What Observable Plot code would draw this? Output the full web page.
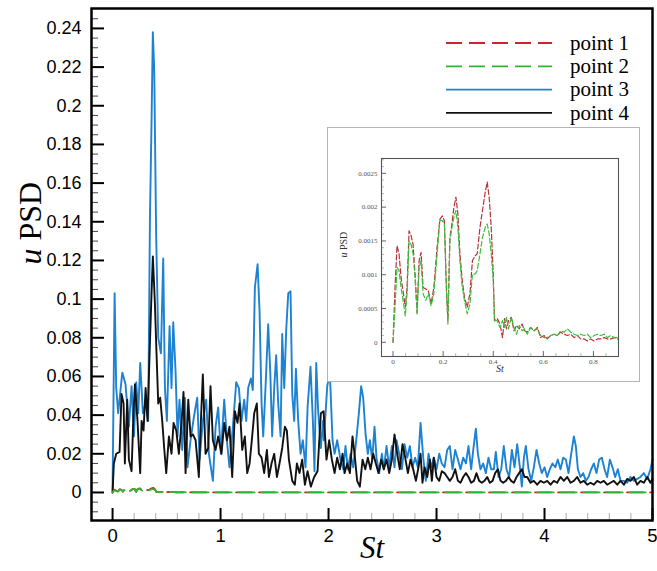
<!DOCTYPE html>
<html><head><meta charset="utf-8">
<script src="https://cdn.jsdelivr.net/npm/d3@7"></script>
<script src="https://cdn.jsdelivr.net/npm/@observablehq/plot@0.6"></script>
<style>
body{margin:0;background:#fff;}
#wrap{position:relative;width:657px;height:571px;overflow:hidden;background:#fff;}
#main{position:absolute;left:0;top:0;}
#inset{position:absolute;left:327px;top:127px;width:313px;height:255px;background:#fff;outline:1.5px solid #b4b4b4;outline-offset:-1.5px;}
#legend{position:absolute;left:0;top:0;pointer-events:none;}
</style></head>
<body><div id="wrap"><div id="main"></div><div id="inset"></div><svg id="legend" width="657" height="140"></svg></div>
<script>
// ---------- data ----------
const seriesNames = ["point 1", "point 2", "point 3", "point 4"];
const seriesColors = ["#c8262e", "#2fb52f", "#1e82d2", "#111111"];

// point 3 (blue)
const p3St = [0.000,0.019,0.034,0.052,0.090,0.120,0.151,0.176,0.198,0.219,0.238,0.256,0.281,0.306,0.330,0.346,0.361,0.373,0.386,0.404,0.423,0.448,0.469,0.485,0.503,0.528,0.546,0.562,0.583,0.602,0.620,0.645,0.670,0.694,0.722,0.753,0.784,0.806,0.836,0.867,0.892,0.929,0.954,0.978,1.003,1.034,1.062,1.083,1.114,1.145,1.170,1.194,1.219,1.238,1.256,1.281,1.299,1.318,1.343,1.361,1.380,1.395,1.417,1.441,1.460,1.478,1.497,1.515,1.534,1.556,1.571,1.590,1.608,1.627,1.648,1.664,1.682,1.698,1.719,1.741,1.762,1.787,1.806,1.833,1.855,1.870,1.886,1.904,1.929,1.948,1.957,1.988,2.012,2.037,2.056,2.080,2.111,2.136,2.157,2.179,2.204,2.228,2.253,2.281,2.302,2.321,2.343,2.364,2.383,2.404,2.426,2.444,2.469,2.494,2.512,2.537,2.562,2.586,2.611,2.630,2.654,2.679,2.704,2.728,2.753,2.778,2.802,2.827,2.852,2.877,2.901,2.926,2.951,2.975,3.000,3.025,3.049,3.074,3.099,3.123,3.148,3.173,3.198,3.222,3.247,3.272,3.296,3.321,3.340,3.364,3.383,3.407,3.432,3.457,3.481,3.506,3.531,3.549,3.574,3.599,3.623,3.648,3.673,3.698,3.722,3.747,3.772,3.790,3.809,3.827,3.852,3.877,3.901,3.926,3.951,3.975,4.000,4.025,4.049,4.074,4.099,4.123,4.148,4.173,4.198,4.222,4.247,4.272,4.290,4.309,4.333,4.358,4.383,4.407,4.432,4.457,4.481,4.506,4.531,4.556,4.580,4.605,4.630,4.654,4.679,4.704,4.735,4.765,4.796,4.827,4.858,4.889,4.920,4.951,4.981,5.000];
const p3Val = [0.001,0.103,0.054,0.041,0.062,0.056,0.034,0.055,0.029,0.057,0.041,0.067,0.041,0.046,0.037,0.141,0.192,0.238,0.218,0.132,0.080,0.072,0.121,0.054,0.037,0.086,0.054,0.088,0.063,0.029,0.048,0.022,0.049,0.013,0.027,0.039,0.049,0.017,0.037,0.048,0.020,0.006,0.034,0.044,0.020,0.048,0.025,0.013,0.034,0.057,0.054,0.037,0.048,0.037,0.054,0.059,0.053,0.106,0.118,0.094,0.046,0.029,0.055,0.087,0.063,0.029,0.054,0.071,0.046,0.029,0.082,0.054,0.084,0.103,0.104,0.051,0.037,0.064,0.037,0.020,0.027,0.013,0.044,0.065,0.037,0.011,0.067,0.042,0.023,0.037,0.027,0.055,0.062,0.027,0.020,0.027,0.017,0.012,0.024,0.012,0.020,0.013,0.025,0.041,0.055,0.049,0.030,0.020,0.027,0.017,0.034,0.018,0.010,0.020,0.012,0.024,0.013,0.024,0.013,0.027,0.020,0.012,0.025,0.018,0.024,0.013,0.018,0.013,0.036,0.018,0.006,0.020,0.013,0.018,0.012,0.020,0.015,0.013,0.022,0.024,0.012,0.022,0.017,0.012,0.018,0.015,0.024,0.012,0.022,0.033,0.020,0.012,0.015,0.010,0.018,0.012,0.012,0.021,0.008,0.012,0.024,0.012,0.008,0.022,0.013,0.025,0.013,0.003,0.018,0.024,0.012,0.006,0.013,0.022,0.015,0.010,0.013,0.008,0.012,0.015,0.013,0.017,0.012,0.018,0.017,0.010,0.020,0.029,0.024,0.012,0.008,0.010,0.006,0.008,0.012,0.015,0.010,0.017,0.018,0.012,0.008,0.017,0.013,0.008,0.012,0.006,0.006,0.005,0.008,0.006,0.007,0.008,0.010,0.007,0.012,0.017];

// point 4 (black)
const p4St = [0.000,0.012,0.034,0.065,0.083,0.102,0.114,0.136,0.151,0.176,0.194,0.207,0.231,0.256,0.269,0.287,0.306,0.324,0.343,0.361,0.373,0.392,0.407,0.423,0.441,0.460,0.478,0.497,0.522,0.546,0.565,0.590,0.614,0.639,0.657,0.676,0.701,0.722,0.744,0.769,0.799,0.818,0.836,0.861,0.886,0.907,0.929,0.954,0.978,1.009,1.034,1.059,1.083,1.108,1.133,1.157,1.176,1.201,1.225,1.247,1.269,1.293,1.312,1.336,1.355,1.380,1.404,1.429,1.448,1.472,1.497,1.522,1.546,1.571,1.596,1.614,1.633,1.664,1.688,1.707,1.731,1.756,1.781,1.806,1.836,1.867,1.898,1.929,1.954,1.981,2.006,2.031,2.056,2.080,2.105,2.130,2.148,2.173,2.198,2.222,2.241,2.265,2.290,2.315,2.340,2.364,2.389,2.414,2.438,2.463,2.488,2.512,2.537,2.562,2.586,2.611,2.636,2.660,2.685,2.710,2.735,2.759,2.784,2.809,2.833,2.852,2.870,2.889,2.914,2.938,2.957,2.975,3.000,3.025,3.049,3.074,3.099,3.123,3.148,3.173,3.198,3.222,3.247,3.272,3.296,3.321,3.346,3.370,3.395,3.420,3.444,3.469,3.494,3.519,3.543,3.568,3.593,3.617,3.642,3.667,3.691,3.716,3.741,3.765,3.790,3.815,3.840,3.870,3.901,3.932,3.963,3.994,4.025,4.056,4.086,4.117,4.148,4.179,4.210,4.241,4.272,4.302,4.333,4.364,4.395,4.426,4.457,4.488,4.519,4.549,4.580,4.611,4.642,4.673,4.704,4.735,4.765,4.796,4.827,4.858,4.889,4.920,4.951,4.981,5.000];
const p4Val = [0.000,0.015,0.020,0.021,0.051,0.046,0.015,0.048,0.017,0.011,0.041,0.056,0.037,0.010,0.037,0.032,0.054,0.037,0.072,0.103,0.122,0.098,0.072,0.046,0.049,0.037,0.023,0.010,0.029,0.020,0.036,0.032,0.020,0.036,0.052,0.010,0.048,0.029,0.030,0.027,0.008,0.037,0.061,0.020,0.023,0.055,0.027,0.022,0.029,0.020,0.036,0.027,0.034,0.008,0.042,0.036,0.046,0.022,0.029,0.010,0.015,0.029,0.041,0.046,0.020,0.018,0.010,0.022,0.008,0.015,0.020,0.008,0.015,0.023,0.034,0.032,0.017,0.006,0.004,0.015,0.010,0.017,0.004,0.011,0.003,0.008,0.011,0.041,0.042,0.017,0.027,0.017,0.010,0.018,0.012,0.020,0.010,0.015,0.010,0.029,0.020,0.006,0.003,0.017,0.012,0.018,0.012,0.020,0.015,0.010,0.017,0.012,0.017,0.010,0.017,0.030,0.020,0.012,0.025,0.018,0.010,0.017,0.012,0.006,0.013,0.020,0.005,0.013,0.008,0.017,0.006,0.018,0.008,0.006,0.011,0.010,0.008,0.006,0.008,0.012,0.006,0.005,0.008,0.010,0.008,0.005,0.006,0.010,0.006,0.005,0.006,0.008,0.005,0.006,0.010,0.012,0.006,0.005,0.006,0.008,0.006,0.005,0.008,0.010,0.012,0.008,0.008,0.005,0.006,0.004,0.006,0.005,0.006,0.004,0.006,0.005,0.008,0.006,0.008,0.005,0.006,0.008,0.005,0.006,0.004,0.005,0.004,0.006,0.005,0.006,0.004,0.005,0.006,0.004,0.006,0.004,0.007,0.006,0.008,0.004,0.006,0.005,0.008,0.005,0.007];

// points 1 and 2 (inset range, shared St)
const lowSt = [0,0.008,0.016,0.024,0.032,0.040,0.049,0.056,0.064,0.072,0.080,0.088,0.096,0.104,0.112,0.120,0.131,0.141,0.152,0.163,0.176,0.187,0.197,0.205,0.213,0.219,0.227,0.235,0.243,0.251,0.259,0.267,0.275,0.285,0.296,0.307,0.317,0.328,0.336,0.347,0.357,0.368,0.376,0.384,0.392,0.400,0.405,0.416,0.427,0.437,0.445,0.453,0.461,0.472,0.483,0.493,0.504,0.515,0.525,0.536,0.549,0.563,0.576,0.589,0.603,0.616,0.629,0.643,0.656,0.669,0.683,0.696,0.709,0.723,0.736,0.749,0.763,0.776,0.789,0.803,0.816,0.829,0.843,0.856,0.869,0.883,0.896];
const p1Val = [0,0.00081,0.00143,0.00131,0.00096,0.00076,0.00052,0.00081,0.00165,0.00158,0.00145,0.00101,0.00044,0.00121,0.00133,0.00081,0.00079,0.00076,0.00057,0.00081,0.00141,0.00182,0.00187,0.00180,0.00081,0.00032,0.00155,0.00175,0.00200,0.00215,0.00190,0.00131,0.00096,0.00067,0.00052,0.00072,0.00121,0.00128,0.00131,0.00170,0.00195,0.00222,0.00237,0.00214,0.00170,0.00101,0.00032,0.00035,0.00027,0.00007,0.00035,0.00020,0.00032,0.00037,0.00017,0.00025,0.00020,0.00027,0.00017,0.00015,0.00022,0.00017,0.00022,0.00007,0.00010,0.00005,0.00010,0.00012,0.00010,0.00015,0.00012,0.00010,0.00012,0.00007,0.00010,0.00005,0.00005,0.00002,0.00005,0.00002,0.00005,0.00005,0.00007,0.00005,0.00005,0.00007,0.00005];
const p2Val = [0,0.00052,0.00111,0.00106,0.00081,0.00062,0.00039,0.00072,0.00150,0.00145,0.00131,0.00096,0.00042,0.00111,0.00121,0.00072,0.00062,0.00072,0.00054,0.00072,0.00131,0.00180,0.00180,0.00175,0.00081,0.00027,0.00150,0.00170,0.00185,0.00195,0.00170,0.00121,0.00086,0.00062,0.00042,0.00057,0.00101,0.00101,0.00106,0.00131,0.00155,0.00170,0.00175,0.00160,0.00131,0.00091,0.00032,0.00032,0.00022,0.00032,0.00022,0.00037,0.00020,0.00037,0.00022,0.00012,0.00025,0.00017,0.00020,0.00012,0.00022,0.00017,0.00020,0.00010,0.00007,0.00007,0.00010,0.00012,0.00010,0.00017,0.00015,0.00020,0.00015,0.00012,0.00010,0.00012,0.00010,0.00012,0.00007,0.00010,0.00012,0.00010,0.00012,0.00007,0.00010,0.00007,0.00007];
// tail of points 1/2 beyond the inset range (main plot)
const tailSt = [1.0,1.5,2.0,2.5,3.0,3.5,4.0,4.5,5.0];
const p1Tail = [0.00005,0.00005,0.00004,0.00004,0.00004,0.00003,0.00003,0.00003,0.00003];
const p2Tail = [0.00007,0.00006,0.00005,0.00005,0.00004,0.00004,0.00004,0.00003,0.00003];

// ticks
const xMajor = [0,1,2,3,4,5];
const xMinor = [0.2,0.4,0.6,0.8,1.2,1.4,1.6,1.8,2.2,2.4,2.6,2.8,3.2,3.4,3.6,3.8,4.2,4.4,4.6,4.8];
const yMajor = [0,0.02,0.04,0.06,0.08,0.1,0.12,0.14,0.16,0.18,0.2,0.22,0.24];
const yMinor = [-0.01,-0.005,0.005,0.01,0.015,0.025,0.03,0.035,0.045,0.05,0.055,0.065,0.07,0.075,0.085,0.09,0.095,0.105,0.11,0.115,0.125,0.13,0.135,0.145,0.15,0.155,0.165,0.17,0.175,0.185,0.19,0.195,0.205,0.21,0.215,0.225,0.23,0.235,0.245];
const ixMajor = [0,0.2,0.4,0.6,0.8];
const ixMinor = [0.05,0.1,0.15,0.25,0.3,0.35,0.45,0.5,0.55,0.65,0.7,0.75,0.85];
const iyMajor = [0,0.0005,0.001,0.0015,0.002,0.0025];
const iyMinor = [0.0001,0.0002,0.0003,0.0004,0.0006,0.0007,0.0008,0.0009,0.0011,0.0012,0.0013,0.0014,0.0016,0.0017,0.0018,0.0019,0.0021,0.0022,0.0023,0.0024,0.0026,0.0027];

// ---------- tables ----------
const mk = (xs, ys) => xs.map((x, i) => ({St: x, v: ys[i]}));
const d3pts = mk(p3St, p3Val);
const d4pts = mk(p4St, p4Val);
const d1low = mk(lowSt, p1Val);
const d2low = mk(lowSt, p2Val);
const d1main = d1low.concat(mk(tailSt, p1Tail));
const d2main = d2low.concat(mk(tailSt, p2Tail));

const SERIF = "Liberation Serif, Times New Roman, serif";
const SANS = "Liberation Sans, Arial, sans-serif";

// ---------- main plot ----------
const W = 657, H = 571, mL = 91, mR = 5, mT = 8, mB = 51;
const pW = W - mL - mR, pH = H - mT - mB;
const main = Plot.plot({
  width: W, height: H,
  marginLeft: mL, marginRight: mR, marginTop: mT, marginBottom: mB,
  x: {domain: [-0.195, 5], axis: null},
  y: {domain: [-0.0145, 0.2503], axis: null},
  style: {background: "transparent", fontFamily: SANS, fontSize: "18px", color: "black"},
  marks: [
    Plot.line(d3pts, {x: "St", y: "v", stroke: seriesColors[2], strokeWidth: 1.9}),
    Plot.line(d4pts, {x: "St", y: "v", stroke: seriesColors[3], strokeWidth: 1.9}),
    Plot.line(d1main, {x: "St", y: "v", stroke: seriesColors[0], strokeWidth: 1.8, strokeDasharray: "16,7"}),
    Plot.line(d2main, {x: "St", y: "v", stroke: seriesColors[1], strokeWidth: 1.8, strokeDasharray: "16,7"}),
    Plot.tickX(xMajor, {x: d => d, insetTop: pH - 12, stroke: "black", strokeWidth: 2}),
    Plot.tickX(xMinor, {x: d => d, insetTop: pH - 7, stroke: "#aaa", strokeWidth: 1}),
    Plot.tickY(yMajor, {y: d => d, insetRight: pW - 13, stroke: "black", strokeWidth: 2}),
    Plot.tickY(yMinor, {y: d => d, insetRight: pW - 7, stroke: "#444", strokeWidth: 1}),
    Plot.axisX(xMajor, {tickSize: 0, tickPadding: 8, label: null, fontSize: 18.5, fontFamily: SANS, tickFormat: d => String(d)}),
    Plot.axisY(yMajor, {tickSize: 0, tickPadding: 10, label: null, fontSize: 18, fontFamily: SANS, tickFormat: d => String(d)}),
    Plot.frame({stroke: "black", strokeWidth: 2.5}),
    Plot.text(["St"], {text: d => d, frameAnchor: "bottom", dy: 37, fontSize: 31, fontStyle: "italic", fontFamily: SERIF, fill: "black"}),
    Plot.text(["u PSD"], {text: d => d, frameAnchor: "left", dx: -61, rotate: -90, fontSize: 32, fontFamily: SERIF, fill: "black"})
  ]
});
document.getElementById("main").appendChild(main);

// ---------- inset plot ----------
const iW = 313, iH = 255, imL = 54, imR = 22, imT = 31, imB = 26;
const ipW = iW - imL - imR, ipH = iH - imT - imB;
const inset = Plot.plot({
  width: iW, height: iH,
  marginLeft: imL, marginRight: imR, marginTop: imT, marginBottom: imB,
  x: {domain: [-0.046, 0.9], axis: null},
  y: {domain: [-0.00021, 0.00272], axis: null},
  style: {background: "transparent", fontFamily: SERIF, fontSize: "7px", color: "black"},
  marks: [
    Plot.line(d1low, {x: "St", y: "v", stroke: "#b8323a", strokeWidth: 1.2, strokeDasharray: "5,2.5"}),
    Plot.line(d2low, {x: "St", y: "v", stroke: "#3cbf3c", strokeWidth: 1.2, strokeDasharray: "5,2.5"}),
    Plot.tickX(ixMajor, {x: d => d, insetTop: ipH - 5, stroke: "#555", strokeWidth: 0.9}),
    Plot.tickX(ixMinor, {x: d => d, insetTop: ipH - 3, stroke: "#888", strokeWidth: 0.6}),
    Plot.tickY(iyMajor, {y: d => d, insetRight: ipW - 5, stroke: "#555", strokeWidth: 0.9}),
    Plot.tickY(iyMinor, {y: d => d, insetRight: ipW - 3, stroke: "#888", strokeWidth: 0.6}),
    Plot.axisX(ixMajor, {tickSize: 0, tickPadding: 3, label: null, fontSize: 7, fontFamily: SERIF, fill: "#555", tickFormat: d => String(d)}),
    Plot.axisY(iyMajor, {tickSize: 0, tickPadding: 4, label: null, fontSize: 7, fontFamily: SERIF, fill: "#555", tickFormat: d => String(d)}),
    Plot.frame({stroke: "#555", strokeWidth: 1.1}),
    Plot.text(["St"], {text: d => d, frameAnchor: "bottom", dy: 15, fontSize: 10, fontStyle: "italic", fontFamily: SERIF, fill: "#333"}),
    Plot.text(["u PSD"], {text: d => d, frameAnchor: "left", dx: -38, rotate: -90, fontSize: 10, fontFamily: SERIF, fill: "#333"})
  ]
});
document.getElementById("inset").appendChild(inset);

// italic "u" in the axis titles
function italicU(svg) {
  d3.select(svg).selectAll("text").filter(function () { return this.textContent === "u PSD"; })
    .each(function () {
      const t = d3.select(this);
      t.text(null);
      t.append("tspan").attr("font-style", "italic").text("u");
      t.append("tspan").text(" PSD");
    });
}
italicU(main); italicU(inset);

// ---------- legend ----------
const dashes = ["16,7", "16,7", null, null];
const lg = d3.select("#legend");
seriesNames.forEach((name, i) => {
  const yy = 43 + i * 23.3;
  lg.append("line").attr("x1", 446).attr("x2", 552).attr("y1", yy).attr("y2", yy)
    .attr("stroke", seriesColors[i]).attr("stroke-width", 1.8)
    .attr("stroke-dasharray", dashes[i]);
  lg.append("text").attr("x", 570).attr("y", yy).attr("dy", "0.32em")
    .attr("font-family", SERIF).attr("font-size", 21).attr("fill", "black").text(name);
});
</script></body></html>
